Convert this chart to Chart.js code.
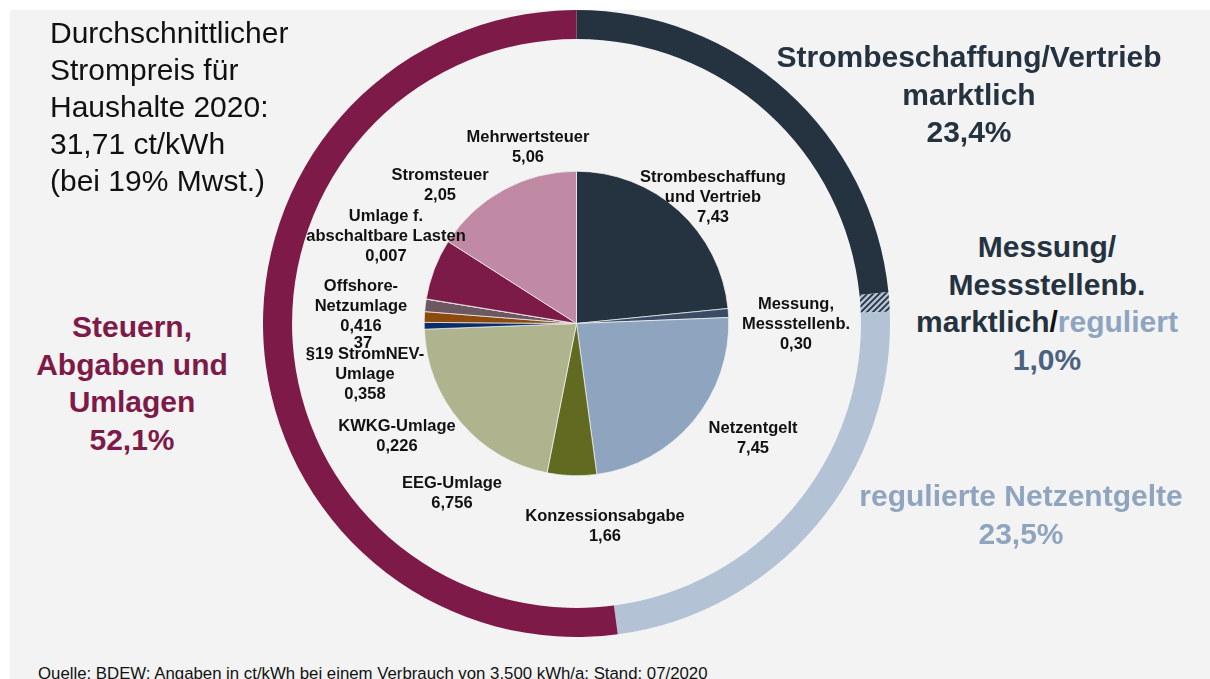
<!DOCTYPE html>
<html>
<head>
<meta charset="utf-8">
<script src="https://cdn.jsdelivr.net/npm/chart.js@4"></script>
<style>
  html,body{margin:0;padding:0;background:#fff;}
  #wrap{position:relative;width:1210px;height:679px;overflow:hidden;background:#fff;font-family:'Liberation Sans',Arial,sans-serif;}
  #panel{position:absolute;left:10px;top:10px;width:1200px;height:669px;background:#f3f3f3;}
  canvas{position:absolute;}
  .t{position:absolute;white-space:nowrap;}
  .pl{font-weight:bold;font-size:16.5px;line-height:20px;color:#111;text-align:center;transform:translateX(-50%);}
  .big{font-weight:bold;font-size:30px;line-height:37.5px;text-align:center;transform:translateX(-50%);}
  .title{font-size:30px;line-height:37px;color:#111;}
  .foot{font-size:16.8px;line-height:17px;color:#111;}
</style>
</head>
<body>
<div id="wrap">
  <div id="panel"></div>
  <canvas id="c" width="627" height="627" style="left:263px;top:10px;width:627px;height:627px;"></canvas>
  <div id="labels"></div>
</div>
<script>
// ---- data ----
const pieCategories = ['Strombeschaffung und Vertrieb','Messung, Messstellenb.','Netzentgelt','Konzessionsabgabe','EEG-Umlage','KWKG-Umlage','§19 StromNEV-Umlage','Offshore-Netzumlage','Umlage f. abschaltbare Lasten','Stromsteuer','Mehrwertsteuer'];
const pieValues = [7.43, 0.30, 7.45, 1.66, 6.756, 0.226, 0.358, 0.416, 0.007, 2.05, 5.06];
const pieValueLabels = ['7,43','0,30','7,45','1,66','6,756','0,226','0,358','0,416','0,007','2,05','5,06'];
const pieColors = ['#253341','#3a4c63','#8fa5bf','#626a22','#b0b48e','#0b2c6a','#8c4a0d','#6d5761','#5a3a4a','#7c1b48','#c08aa5'];

const ringCategories = ['Strombeschaffung/Vertrieb marktlich','Messung/Messstellenb. marktlich/reguliert','regulierte Netzentgelte','Steuern, Abgaben und Umlagen'];
const ringValues = [23.4, 1.0, 23.5, 52.1];
const ringValueLabels = ['23,4%','1,0%','23,5%','52,1%'];

// hatch pattern for the mixed segment
function hatch(){
  const p = document.createElement('canvas');
  p.width = 6; p.height = 6;
  const g = p.getContext('2d');
  g.fillStyle = '#b3c2d4'; g.fillRect(0,0,6,6);
  g.strokeStyle = '#253341'; g.lineWidth = 1.8;
  g.beginPath();
  g.moveTo(-1,7); g.lineTo(7,-1);
  g.moveTo(-4,4); g.lineTo(4,-4);
  g.moveTo(2,10); g.lineTo(10,2);
  g.stroke();
  return g.createPattern(p,'repeat');
}
const ringColors = ['#253341', null, '#b3c2d4', '#7d1a48'];
ringColors[1] = hatch();

new Chart(document.getElementById('c'), {
  type: 'pie',
  data: {
    labels: pieCategories,
    datasets: [
      { data: ringValues, backgroundColor: ringColors, borderWidth: 0, weight: 29 },
      { data: [1], backgroundColor: 'rgba(0,0,0,0)', borderWidth: 0, weight: 132 },
      { data: pieValues, backgroundColor: pieColors, borderWidth: 1, borderColor: 'rgba(243,243,243,0.7)', weight: 152 }
    ]
  },
  options: {
    responsive: false,
    animation: false,
    events: [],
    layout: { padding: 0 },
    plugins: { legend: { display: false }, tooltip: { enabled: false } }
  }
});

// ---- text ----
const L = document.getElementById('labels');
function add(cls, x, y, html, style){
  const d = document.createElement('div');
  d.className = 't ' + cls;
  d.style.left = x + 'px';
  d.style.top = y + 'px';
  if (style) d.style.cssText += style;
  d.innerHTML = html;
  L.appendChild(d);
}
add('title', 50, 14, 'Durchschnittlicher<br>Strompreis für<br>Haushalte 2020:<br>31,71 ct/kWh<br>(bei 19% Mwst.)');

// pie labels
add('pl', 713, 166, 'Strombeschaffung<br>und Vertrieb<br>' + pieValueLabels[0]);
add('pl', 796, 293, 'Messung,<br>Messstellenb.<br>' + pieValueLabels[1]);
add('pl', 753, 417, 'Netzentgelt<br>' + pieValueLabels[2]);
add('pl', 605, 505, 'Konzessionsabgabe<br>' + pieValueLabels[3]);
add('pl', 452, 472, 'EEG-Umlage<br>' + pieValueLabels[4]);
add('pl', 397, 415, 'KWKG-Umlage<br>' + pieValueLabels[5]);
add('pl', 363, 332, '37');
add('pl', 365, 343, '§19 StromNEV-<br>Umlage<br>' + pieValueLabels[6]);
add('pl', 361, 275, 'Offshore-<br>Netzumlage<br>' + pieValueLabels[7]);
add('pl', 386, 205, 'Umlage f.<br>abschaltbare Lasten<br>' + pieValueLabels[8]);
add('pl', 440, 164, 'Stromsteuer<br>' + pieValueLabels[9]);
add('pl', 528, 126, 'Mehrwertsteuer<br>' + pieValueLabels[10]);

// ring labels
add('big', 969, 38, '<span style="color:#253341">Strombeschaffung/Vertrieb<br>marktlich<br>' + ringValueLabels[0] + '</span>');
add('big', 1047, 228, '<span style="color:#253341">Messung/<br>Messstellenb.<br>marktlich</span><span style="color:#111">/</span><span style="color:#8fa5bf">reguliert</span><br><span style="color:#4b6281">' + ringValueLabels[1] + '</span>');
add('big', 1021, 477, '<span style="color:#8fa5bf">regulierte Netzentgelte<br>' + ringValueLabels[2] + '</span>');
add('big', 132, 308, '<span style="color:#7d1a48">Steuern,<br>Abgaben und<br>Umlagen<br>' + ringValueLabels[3] + '</span>');

add('foot', 38, 665, 'Quelle: BDEW; Angaben in ct/kWh bei einem Verbrauch von 3.500 kWh/a; Stand: 07/2020');
</script>
</body>
</html>
